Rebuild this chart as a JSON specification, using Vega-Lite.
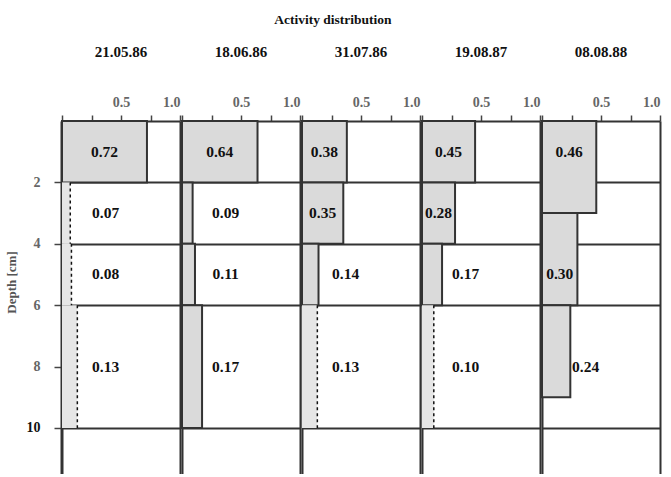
{
  "$schema": "https://vega.github.io/schema/vega-lite/v6.json",
  "title": {"text": "Activity distribution", "fontSize": 13.5, "font": "Liberation Serif", "fontWeight": "bold", "anchor": "middle", "color": "#111", "offset": 19},
  "padding": {"left": 5, "top": 12, "right": 5, "bottom": 0},
  "config": {"view": {"stroke": null}, "font": "Liberation Serif"},
  "data": {"values": [
    {"date": "21.05.86", "top": 0, "bottom": 2, "depth": 1, "activity": 0.72, "reading": "measured"},
    {"date": "21.05.86", "top": 2, "bottom": 4, "depth": 3, "activity": 0.07, "reading": "estimated"},
    {"date": "21.05.86", "top": 4, "bottom": 6, "depth": 5, "activity": 0.08, "reading": "estimated"},
    {"date": "21.05.86", "top": 6, "bottom": 10, "depth": 8, "activity": 0.13, "reading": "estimated"},
    {"date": "18.06.86", "top": 0, "bottom": 2, "depth": 1, "activity": 0.64, "reading": "measured"},
    {"date": "18.06.86", "top": 2, "bottom": 4, "depth": 3, "activity": 0.09, "reading": "measured"},
    {"date": "18.06.86", "top": 4, "bottom": 6, "depth": 5, "activity": 0.11, "reading": "measured"},
    {"date": "18.06.86", "top": 6, "bottom": 10, "depth": 8, "activity": 0.17, "reading": "measured"},
    {"date": "31.07.86", "top": 0, "bottom": 2, "depth": 1, "activity": 0.38, "reading": "measured"},
    {"date": "31.07.86", "top": 2, "bottom": 4, "depth": 3, "activity": 0.35, "reading": "measured"},
    {"date": "31.07.86", "top": 4, "bottom": 6, "depth": 5, "activity": 0.14, "reading": "measured"},
    {"date": "31.07.86", "top": 6, "bottom": 10, "depth": 8, "activity": 0.13, "reading": "estimated"},
    {"date": "19.08.87", "top": 0, "bottom": 2, "depth": 1, "activity": 0.45, "reading": "measured"},
    {"date": "19.08.87", "top": 2, "bottom": 4, "depth": 3, "activity": 0.28, "reading": "measured"},
    {"date": "19.08.87", "top": 4, "bottom": 6, "depth": 5, "activity": 0.17, "reading": "measured"},
    {"date": "19.08.87", "top": 6, "bottom": 10, "depth": 8, "activity": 0.10, "reading": "estimated"},
    {"date": "08.08.88", "top": 0, "bottom": 3, "depth": 1, "activity": 0.46, "reading": "measured"},
    {"date": "08.08.88", "top": 3, "bottom": 6, "depth": 5, "activity": 0.30, "reading": "measured"},
    {"date": "08.08.88", "top": 6, "bottom": 9, "depth": 8, "activity": 0.24, "reading": "measured"}
  ]},
  "facet": {
    "column": {
      "field": "date", "type": "nominal",
      "sort": ["21.05.86", "18.06.86", "31.07.86", "19.08.87", "08.08.88"],
      "title": null,
      "header": {"labelFont": "Liberation Serif", "labelFontSize": 15, "labelFontWeight": "bold", "labelColor": "#111", "labelPadding": 35}
    }
  },
  "spacing": 0,
  "resolve": {"scale": {"x": "independent"}, "axis": {"x": "independent"}},
  "spec": {
    "width": 118,
    "height": 353,
    "resolve": {"scale": {"x": "independent"}},
    "layer": [
      {
        "transform": [{"filter": "datum.reading == 'measured'"}],
        "mark": {"type": "rect", "stroke": "#333", "strokeWidth": 2, "fill": "#dadada"},
        "encoding": {
          "y": {"field": "top", "type": "quantitative",
            "scale": {"domain": [0, 11.5], "reverse": true, "nice": false, "zero": false},
            "axis": {"values": [2, 4, 6, 8, 10], "title": "Depth [cm]", "titleFont": "Liberation Serif", "titleFontSize": 13, "titleFontWeight": "bold", "titleColor": "#555", "titlePadding": 8, "titleY": 161,
              "labelFont": "Liberation Serif", "labelFontSize": 14, "labelFontWeight": "bold",
              "labelColor": {"condition": {"test": "datum.value == 10", "value": "#111"}, "value": "#666"},
              "labelPadding": 14, "tickSize": 7, "tickColor": "#444", "tickWidth": 1.5,
              "domainColor": "#333", "domainWidth": 2,
              "grid": true, "gridColor": "#333", "gridWidth": 2,
              "gridOpacity": {"condition": {"test": "datum.value == 8", "value": 0}, "value": 1}}},
          "y2": {"field": "bottom"},
          "x": {"field": "activity", "type": "quantitative",
            "scale": {"domain": [0, 1], "nice": false},
            "axis": {"orient": "top", "title": null, "values": [0, 0.25, 0.5, 0.75, 1],
              "labelExpr": "datum.value == 0.5 ? '0.5' : (datum.value == 1 ? '1.0' : '')",
              "labelFont": "Liberation Serif", "labelFontSize": 14, "labelFontWeight": "bold", "labelColor": "#666", "labelPadding": 6,
              "tickSize": 6, "tickColor": "#444", "tickWidth": 1.5,
              "domainColor": "#333", "domainWidth": 2,
              "grid": true, "gridColor": "#333", "gridWidth": 2,
              "gridOpacity": {"condition": {"test": "datum.value == 0 || datum.value == 1", "value": 1}, "value": 0}}},
          "x2": {"datum": 0}
        }
      },
      {
        "transform": [{"filter": "datum.reading == 'estimated'"}],
        "mark": {"type": "rect", "fill": "#e6e6e6"},
        "encoding": {
          "y": {"field": "top", "type": "quantitative"},
          "y2": {"field": "bottom"},
          "x": {"field": "activity", "type": "quantitative", "scale": {"domain": [0, 1], "nice": false}, "axis": null},
          "x2": {"datum": 0}
        }
      },
      {
        "transform": [{"filter": "datum.reading == 'estimated'"}],
        "mark": {"type": "rule", "stroke": "#111", "strokeWidth": 1.5, "strokeDash": [3, 3]},
        "encoding": {
          "y": {"field": "top", "type": "quantitative"},
          "y2": {"field": "bottom"},
          "x": {"field": "activity", "type": "quantitative", "scale": {"domain": [0, 1], "nice": false}, "axis": null}
        }
      },
      {
        "transform": [{"filter": "datum.activity >= 0.25"}],
        "mark": {"type": "text", "font": "Liberation Serif", "fontSize": 15.5, "fontWeight": "bold", "color": "#111"},
        "encoding": {
          "x": {"field": "activity", "type": "quantitative", "scale": {"domain": [0, 2], "nice": false}, "axis": null},
          "y": {"field": "depth", "type": "quantitative"},
          "text": {"field": "activity", "type": "quantitative", "format": ".2f"}
        }
      },
      {
        "transform": [{"filter": "datum.activity < 0.25"}],
        "mark": {"type": "text", "font": "Liberation Serif", "fontSize": 15.5, "fontWeight": "bold", "color": "#111"},
        "encoding": {
          "x": {"datum": 0.37, "type": "quantitative", "scale": {"domain": [0, 1], "nice": false}, "axis": null},
          "y": {"field": "depth", "type": "quantitative"},
          "text": {"field": "activity", "type": "quantitative", "format": ".2f"}
        }
      }
    ]
  }
}
